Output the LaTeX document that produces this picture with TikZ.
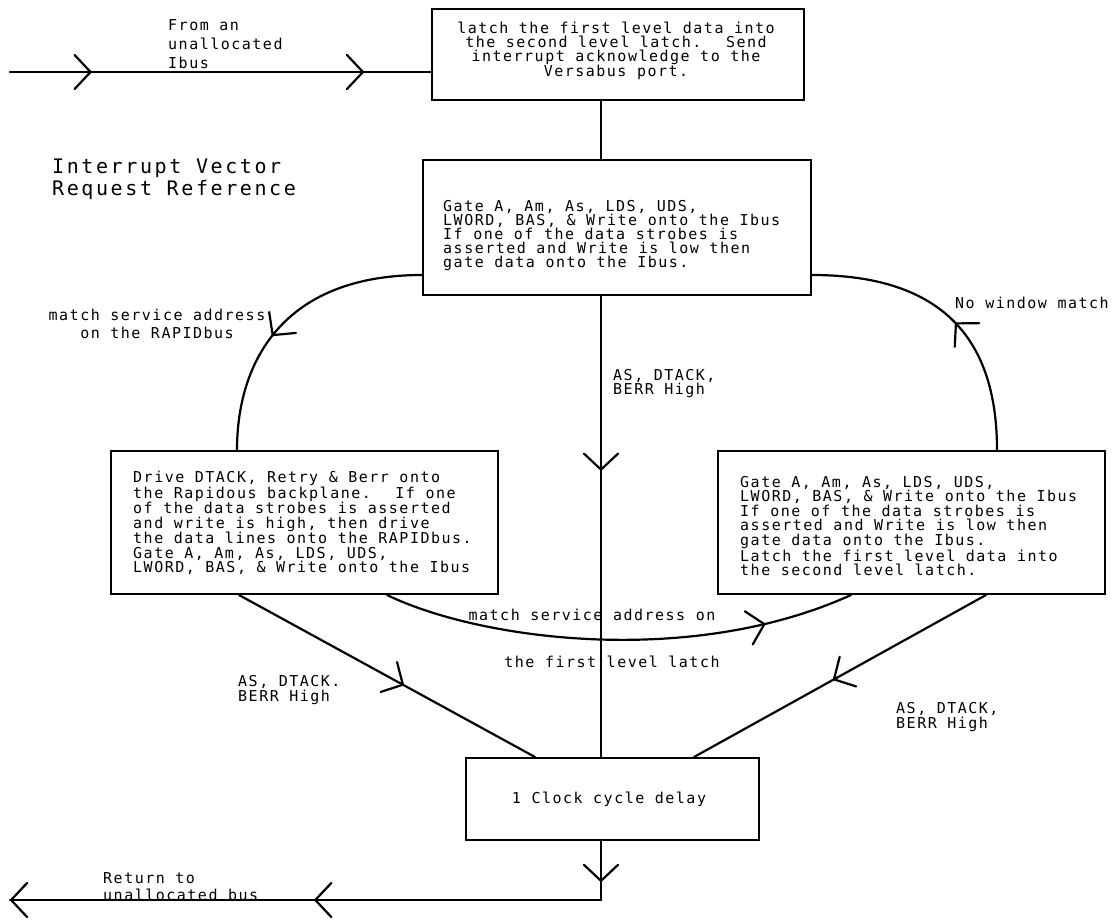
\documentclass[tikz,border=0pt]{standalone}
\usepackage{fontspec}
\newfontfamily\plotfont[LetterSpace=10]{DejaVu Sans Mono}
\newfontfamily\titlefont[LetterSpace=13]{DejaVu Sans Mono}
\usetikzlibrary{arrows.meta,decorations.markings}
\tikzset{
  barb/.tip={Straight Barb[length=16pt,width=34pt,line width=2.2pt,round]},
  chev at/.style={postaction={decorate,decoration={markings,mark=at position #1 with {\arrow{barb}}}}},
  boxx/.style={draw, line width=2pt, inner sep=0pt},
  wire/.style={line width=2.2pt, line cap=round},
  txt/.style={font=\plotfont\fontsize{15}{#1}\selectfont, inner sep=0pt, align=left},
  lbl/.style={font=\plotfont\fontsize{15}{#1}\selectfont, inner sep=0pt, align=left},
}
\begin{document}
\begin{tikzpicture}[x=1pt,y=-1pt]
\useasboundingbox[fill=white] (0,0) rectangle (1117,919);

% boxes
\node[boxx, minimum width=372pt, minimum height=91pt] (top) at (618,54.5) {};
\node[boxx, minimum width=388pt, minimum height=135pt] (mid) at (617,227.5) {};
\node[boxx, minimum width=387pt, minimum height=143pt] (lft) at (304.5,522.5) {};
\node[boxx, minimum width=387pt, minimum height=143pt] (rgt) at (911.5,522.5) {};
\node[boxx, minimum width=293pt, minimum height=82pt] (bot) at (612.5,799) {};

% box texts
\node[txt=14, align=center] (topT) at (616,51) {latch the first level data into\\the second level latch.~ Send\\interrupt acknowledge to the\\Versabus port.};
\node[txt=14, anchor=west] (midT) at (443,236) {Gate A, Am, As, LDS, UDS,\\LWORD, BAS, \& Write onto the Ibus\\If one of the data strobes is\\asserted and Write is low then\\gate data onto the Ibus.};
\node[txt=14.5, anchor=west] (lftT) at (133,523) {Drive DTACK, Retry \& Berr onto\\the Rapidous backplane.~ If one\\of the data strobes is asserted\\and write is high, then drive\\the data lines onto the RAPIDbus.\\Gate A, Am, As, LDS, UDS,\\LWORD, BAS, \& Write onto the Ibus};
\node[txt=14.5, anchor=west] (rgtT) at (740,526) {Gate A, Am, As, LDS, UDS,\\LWORD, BAS, \& Write onto the Ibus\\If one of the data strobes is\\asserted and Write is low then\\gate data onto the Ibus.\\Latch the first level data into\\the second level latch.};
\node[txt=14] (botT) at (609,799) {1 Clock cycle delay};

% title and labels
\node[font=\titlefont\fontsize{20}{22}\selectfont, align=left, anchor=west, inner sep=0pt] (title) at (52,179) {Interrupt Vector\\Request Reference};
\node[lbl=19, anchor=west] (fromL) at (168,44) {From an\\unallocated\\Ibus};
\node[lbl=18, align=center] (matchR) at (157,324) {match service address\\on the RAPIDbus};
\node[lbl=14, anchor=west] (asM) at (613,384) {AS, DTACK,\\BERR High};
\node[lbl=14, anchor=west] (noWin) at (955,303) {No window match};
\node[lbl=15, anchor=west] (asL) at (238,690.5) {AS, DTACK.\\BERR High};
\node[lbl=15, anchor=west] (asR) at (896,717.5) {AS, DTACK,\\BERR High};
\node[lbl=14] (mf1) at (592,615) {match service address on};
\node[lbl=14] (mf2) at (612,662) {the first level latch};
\node[lbl=17, anchor=west] (ret) at (103,886.5) {Return to\\unallocated bus};

% connectors
\coordinate (inS) at (10,72);
\draw[wire, chev at=0.194, chev at=0.841] (inS) -- (inS -| top.west);
\coordinate (cx) at (601,0);
\draw[wire] (cx |- top.south) -- (cx |- mid.north);
\draw[wire, chev at=0.379] (cx |- mid.south) -- (cx |- bot.north);
\coordinate (lc) at (237,0);
\draw[wire, chev at=0.58] ([yshift=-47.5pt]mid.west) .. controls +(-139,0) and +(0,-88) .. (lc |- lft.north);
\coordinate (rc) at (997,0);
\draw[wire, chev at=0.47] (rc |- rgt.north) .. controls +(0,-100) and +(141,0) .. ([yshift=-47.5pt]mid.east);
\coordinate (ld1) at (239,0);
\coordinate (ld2) at (535,0);
\draw[wire, chev at=0.557] (ld1 |- lft.south) -- (ld2 |- bot.north);
\coordinate (rd1) at (986,0);
\coordinate (rd2) at (694,0);
\draw[wire, chev at=0.524] (rd1 |- rgt.south) -- (rd2 |- bot.north);
\coordinate (c1) at (387,0);
\coordinate (c2) at (851,0);
\draw[wire, chev at=0.81] (c1 |- lft.south) .. controls (480,640) and (690,668) .. (c2 |- rgt.south);
\coordinate (retE) at (10,900);
\draw[wire, chev at=0.063, chev at=0.532, chev at=1] (cx |- bot.south) |- (retE);
\end{tikzpicture}
\end{document}
